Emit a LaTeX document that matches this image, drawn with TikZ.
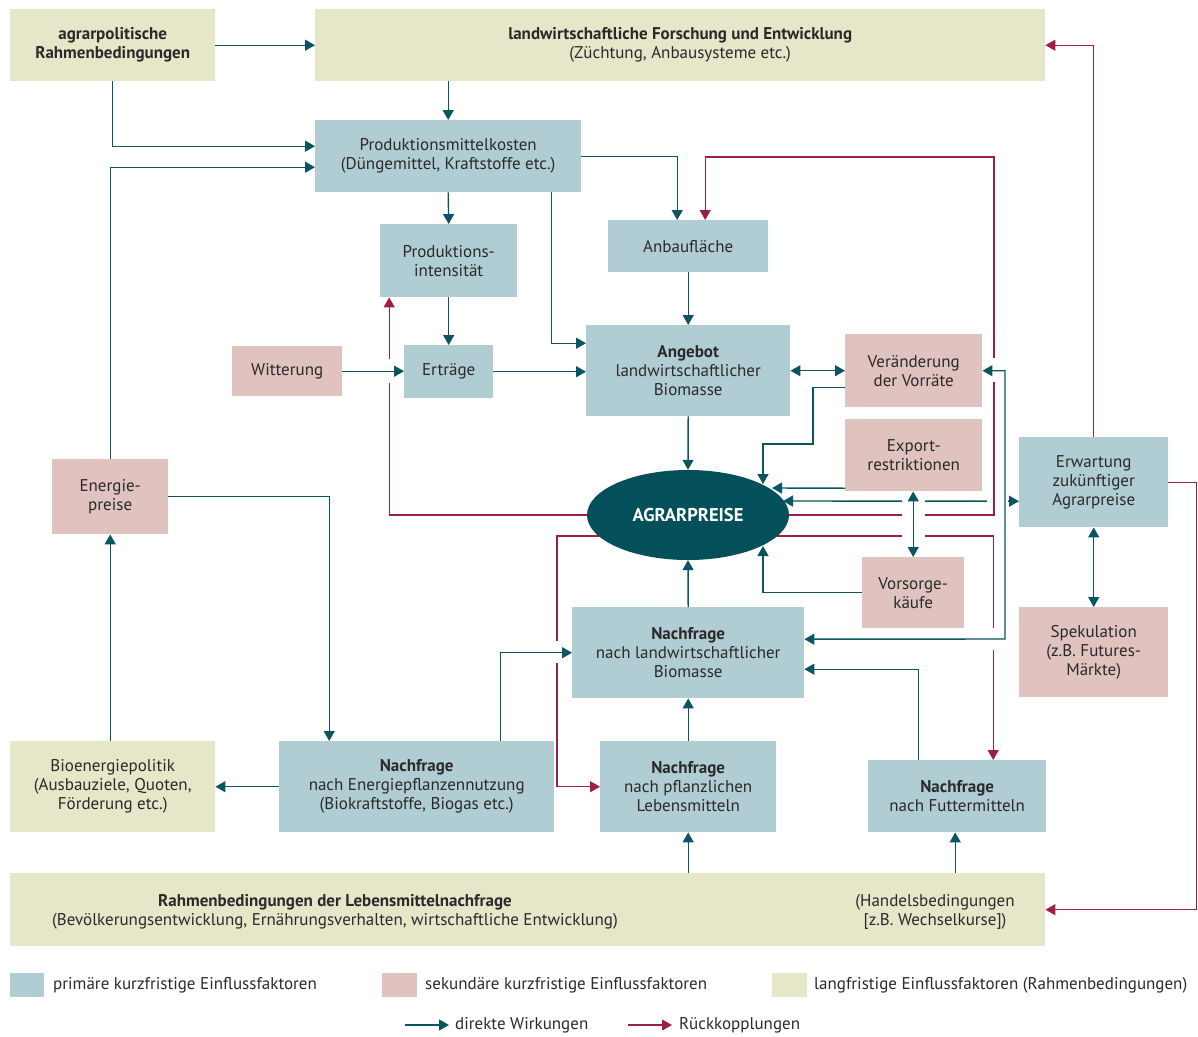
\documentclass[tikz,border=0pt]{standalone}
\usepackage{fontspec}
\setmainfont{PT Sans}
\usetikzlibrary{arrows.meta,shapes.geometric,backgrounds}
\definecolor{cblue}{HTML}{B0CDD3}
\definecolor{cpink}{HTML}{E0C2BF}
\definecolor{cbeige}{HTML}{E6E7C8}
\definecolor{cteal}{HTML}{0B5560}
\definecolor{cred}{HTML}{9E1F44}
\definecolor{cdark}{HTML}{034F5A}
\definecolor{ctext}{HTML}{2A2A2A}
\begin{document}
\begin{tikzpicture}[x=1pt,y=-1pt,
  font=\fontsize{17}{19}\selectfont,
  box/.style={anchor=north west, inner sep=0pt, align=center, text=ctext},
  bbox/.style={box, fill=cblue},
  pbox/.style={box, fill=cpink},
  ybox/.style={box, fill=cbeige},
  ta/.style={draw=cteal, line width=1.4pt, -{Triangle[length=10pt,width=11pt]}},
  tb/.style={draw=cteal, line width=1.4pt, {Triangle[length=10pt,width=11pt]}-{Triangle[length=10pt,width=11pt]}},
  ra/.style={draw=cred, line width=1.4pt, -{Triangle[length=10pt,width=11pt]}},
  gap/.style={fill=white},
  legtext/.style={anchor=west, inner sep=0pt, text=ctext}]
\useasboundingbox (0,0) rectangle (1198,1036);

% ---------- nodes ----------
\node[ybox, minimum width=205pt, minimum height=72pt] (agrar) at (10,9) {\textbf{agrarpolitische}\\\textbf{Rahmenbedingungen}};
\node[ybox, minimum width=730pt, minimum height=72pt] (forsch) at (315,9) {\textbf{landwirtschaftliche Forschung und Entwicklung}\\(Züchtung, Anbausysteme etc.)};
\node[bbox, minimum width=266pt, minimum height=72pt] (pmk) at (315,120) {Produktionsmittelkosten\\(Düngemittel, Kraftstoffe etc.)};
\node[bbox, minimum width=137pt, minimum height=73pt] (pint) at (380,224) {Produktions-\\intensität};
\node[bbox, minimum width=160pt, minimum height=52pt] (anbau) at (608,220) {Anbaufläche};
\node[pbox, minimum width=110pt, minimum height=50pt] (witter) at (232,346) {Witterung};
\node[bbox, minimum width=89pt, minimum height=53pt] (ertr) at (404,345) {Erträge};
\node[bbox, minimum width=204pt, minimum height=91pt] (angebot) at (586,325) {\textbf{Angebot}\\landwirtschaftlicher\\Biomasse};
\node[pbox, minimum width=137pt, minimum height=73pt] (vorr) at (845,334) {Veränderung\\der Vorräte};
\node[pbox, minimum width=137pt, minimum height=72pt] (export) at (845,419) {Export-\\restriktionen};
\node[bbox, minimum width=149pt, minimum height=90pt] (erw) at (1019,437) {Erwartung\\zukünftiger\\Agrarpreise};
\node[ellipse, fill=cdark, minimum width=202pt, minimum height=90pt, inner sep=0pt, text=white, font=\fontsize{18.5}{20}\selectfont\bfseries] (ell) at (688,515) {AGRARPREISE};
\node[pbox, minimum width=102pt, minimum height=71pt] (vorsorge) at (862,557) {Vorsorge-\\käufe};
\node[pbox, minimum width=116pt, minimum height=75pt] (enpreis) at (52,459) {Energie-\\preise};
\node[bbox, minimum width=232pt, minimum height=91pt] (nachlw) at (572,607) {\textbf{Nachfrage}\\nach landwirtschaftlicher\\Biomasse};
\node[pbox, minimum width=149pt, minimum height=90pt] (spek) at (1019,607) {Spekulation\\(z.B. Futures-\\Märkte)};
\node[ybox, minimum width=205pt, minimum height=91pt] (bioen) at (10,741) {Bioenergiepolitik\\(Ausbauziele, Quoten,\\Förderung etc.)};
\node[bbox, minimum width=275pt, minimum height=91pt] (energ) at (279,741) {\textbf{Nachfrage}\\nach Energiepflanzennutzung\\(Biokraftstoffe, Biogas etc.)};
\node[bbox, minimum width=176pt, minimum height=91pt] (pflanz) at (600,741) {\textbf{Nachfrage}\\nach pflanzlichen\\Lebensmitteln};
\node[bbox, minimum width=178pt, minimum height=72pt] (futter) at (868,760) {\textbf{Nachfrage}\\nach Futtermitteln};
\node[ybox, minimum width=1035pt, minimum height=73pt] (rlm) at (10,873) {};
\node[anchor=center, inner sep=0pt, align=center, text=ctext] (rlmt) at (335,912) {\textbf{Rahmenbedingungen der Lebensmittelnachfrage}\\(Bevölkerungsentwicklung, Ernährungsverhalten, wirtschaftliche Entwicklung)};
\node[anchor=center, inner sep=0pt, align=center, text=ctext] (rlmh) at (935,912) {(Handelsbedingungen\\{[}z.B. Wechselkurse{]})};

% arrow tip points on the ellipse
\coordinate (eA) at (763,484);
\coordinate (eB) at (772,488);
\coordinate (eC) at (783,501);
\coordinate (eD) at (763,546);

% ---------- connectors, lowest first ----------
\draw[tb] (eC) -- ([yshift=-19pt]erw.west);
\fill[gap] (987,497) rectangle (1008,505);
\fill[gap] (902,497) rectangle (925,505);

\draw[ra] (ell.east) -| (994,157) -| ([xshift=17pt]anbau.north);
\draw[ra] (ell.west) -| ([xshift=-59.5pt]pint.south);
\begin{scope}[on background layer]
  \draw[ra] (688,536) -- (557,536) |- (pflanz.west);
  \draw[ra] (688,536) -| ([xshift=36pt]futter.north);
\end{scope}
\fill[gap] (902,511) rectangle (925,519);
\fill[gap] (902,532) rectangle (925,540);
\fill[gap] (990,358) rectangle (998,382);
\fill[gap] (989,628) rectangle (997,650);
\fill[gap] (553,641) rectangle (561,663);
\fill[gap] (385,359) rectangle (393,383);

\draw[tb] (vorsorge.north |- export.south) -- (vorsorge.north);
\draw[tb] (vorr.east) -| (1005,639) -- ([yshift=13.5pt]nachlw.east);
\draw[ta] ([xshift=83.5pt]energ.north) |- (nachlw.west);
\draw[ta] (witter.east) -- (witter.east -| ertr.west);

\draw[ta] (agrar.east) -- (forsch.west |- agrar.east);
\draw[ta] (pmk.north |- forsch.south) -- (pmk.north);
\draw[ta] (agrar.south) |- ([yshift=10pt]pmk.west);
\draw[ta] (enpreis.north) |- ([yshift=-11pt]pmk.west);
\draw[ta] (pmk.south) -- (pint.north);
\draw[ta] (pmk.east) -| ([xshift=-11pt]anbau.north);
\draw[ta] ([xshift=-30pt]pmk.south east) |- ([yshift=27.5pt]angebot.west);
\draw[ta] (anbau.south) -- (angebot.north);
\draw[ta] (pint.south) -- (ertr.north);
\draw[ta] (ertr.east) -- (ertr.east -| angebot.west);
\draw[tb] (angebot.east) -- (angebot.east -| vorr.west);
\draw[ta] ([yshift=-16.5pt]vorr.west) -| (813,444) -| (eA);
\draw[ta] ([yshift=-33pt]export.west) -- (eB);
\draw[ta] (angebot.south) -- (ell.north);
\draw[ta] (nachlw.north) -- (ell.south);
\draw[ta] (vorsorge.west) -| (eD);
\draw[tb] (erw.south) -- (spek.north);
\draw[ta] ([xshift=-39pt]futter.north) |- ([yshift=-16.5pt]nachlw.east);
\draw[ta] (enpreis.east) -| ([xshift=-87.5pt]energ.north);
\draw[ta] (energ.west) -- (bioen.east);
\draw[ta] (enpreis.south |- bioen.north) -- (enpreis.south);
\draw[ta] (pflanz.north) -- (nachlw.south);
\draw[ta] (pflanz.south |- rlm.north) -- (pflanz.south);
\draw[ta] ([xshift=-2pt]futter.south |- rlm.north) -- ([xshift=-2pt]futter.south);

\draw[ra] (erw.north) |- (forsch.east);
\draw[ra] (erw.east) -| ([xshift=151pt]rlm.east) -- (rlm.east);

% ---------- legend ----------
\node[box, fill=cblue, minimum width=34pt, minimum height=24pt] (lg1) at (10,973) {};
\node[legtext] (lt1) at (53,985) {primäre kurzfristige Einflussfaktoren};
\node[box, fill=cpink, minimum width=35pt, minimum height=24pt] (lg2) at (382,973) {};
\node[legtext] (lt2) at (425,985) {sekundäre kurzfristige Einflussfaktoren};
\node[box, fill=cbeige, minimum width=35pt, minimum height=24pt] (lg3) at (772,973) {};
\node[legtext] (lt3) at (814,985) {langfristige Einflussfaktoren (Rahmenbedingungen)};
\coordinate (la1) at (405,1025);
\coordinate (la2) at (449,1025);
\draw[ta] (la1) -- (la2);
\node[legtext] (lt4) at (455,1025) {direkte Wirkungen};
\coordinate (lb1) at (628,1025);
\coordinate (lb2) at (672,1025);
\draw[ra] (lb1) -- (lb2);
\node[legtext] (lt5) at (679,1025) {Rückkopplungen};
\end{tikzpicture}
\end{document}
